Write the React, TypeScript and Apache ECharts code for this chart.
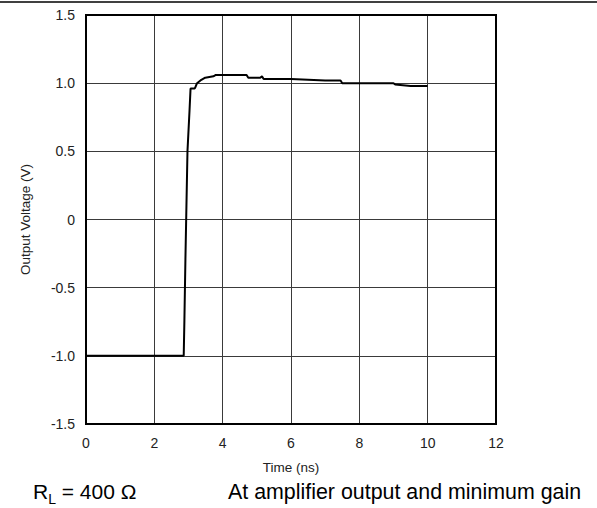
import React, { useEffect, useRef } from "react";
import * as echarts from "echarts";

const timeNs = [0, 0.5, 1, 1.5, 2, 2.5, 2.86, 2.88, 2.91, 2.97, 3.03, 3.06, 3.18, 3.2, 3.25, 3.35, 3.49, 3.73, 3.8, 4.0, 4.2, 4.7, 4.75, 5.1, 5.15, 5.2, 6.0, 7.0, 7.45, 7.5, 8.0, 8.5, 9.0, 9.05, 9.5, 10.0];
const voltage = [-1, -1, -1, -1, -1, -1, -1, -0.74, -0.29, 0.5, 0.8, 0.96, 0.96, 0.97, 1.0, 1.02, 1.04, 1.05, 1.06, 1.06, 1.06, 1.06, 1.04, 1.04, 1.05, 1.03, 1.03, 1.02, 1.02, 1.0, 1.0, 1.0, 1.0, 0.99, 0.98, 0.98];

const xTitle = "Time (ns)";
const yTitle = "Output Voltage (V)";
const noteLeftMain = "R";
const noteLeftSub = "L";
const noteLeftRest = " = 400 Ω";
const noteRight = "At amplifier output and minimum gain";

export default function App() {
  const ref = useRef<HTMLDivElement>(null);
  useEffect(() => {
    document.body.style.margin = "0";
    const chart = echarts.init(ref.current!, null, { renderer: "svg" });
    const font = "'Liberation Sans', Arial, sans-serif";
    chart.setOption({
      animation: false,
      backgroundColor: "#fff",
      textStyle: { fontFamily: font },
      grid: {
        left: 86,
        top: 15,
        width: 410,
        height: 409,
        show: true,
        borderColor: "#000",
        borderWidth: 2,
        backgroundColor: "transparent",
        z: 3,
      },
      xAxis: {
        type: "value",
        min: 0,
        max: 12,
        interval: 2,
        name: xTitle,
        nameLocation: "middle",
        nameGap: 36,
        nameTextStyle: { fontSize: 13.5, color: "#222", fontFamily: font },
        axisLine: { show: false },
        axisTick: { show: false },
        axisLabel: { fontSize: 14, color: "#222", margin: 12, fontFamily: font },
        splitLine: { show: true, lineStyle: { color: "#3a3a3a", width: 1 } },
      },
      yAxis: {
        type: "value",
        min: -1.5,
        max: 1.5,
        interval: 0.5,
        name: yTitle,
        nameLocation: "middle",
        nameGap: 54,
        nameRotate: 90,
        nameTextStyle: { fontSize: 13.5, color: "#222", fontFamily: font },
        axisLine: { show: false },
        axisTick: { show: false },
        axisLabel: {
          fontSize: 14,
          color: "#222",
          margin: 11,
          fontFamily: font,
          formatter: (v: number) => (Math.abs(v) < 1e-9 ? "0" : v.toFixed(1)),
        },
        splitLine: { show: true, lineStyle: { color: "#3a3a3a", width: 1 } },
      },
      series: [
        {
          type: "line",
          data: timeNs.map((t, i) => [t, voltage[i]]),
          showSymbol: false,
          symbol: "none",
          lineStyle: { color: "#000", width: 2 },
          z: 5,
        },
      ],
      graphic: [
        {
          type: "line",
          shape: { x1: 0, y1: 2, x2: 597, y2: 2 },
          style: { stroke: "#000", lineWidth: 1.5 },
        },
        {
          type: "text",
          left: 33,
          top: 481,
          style: {
            text: `{a|${noteLeftMain}}{s|${noteLeftSub}}{a|${noteLeftRest}}`,
            rich: {
              a: { fontSize: 21, fontFamily: font, fill: "#000", verticalAlign: "bottom" },
              s: { fontSize: 14, fontFamily: font, fill: "#000", padding: [0, 0, -4, 0], verticalAlign: "bottom" },
            },
          },
        },
        {
          type: "text",
          left: 228,
          top: 481,
          style: { text: noteRight, fontSize: 21.4, fontFamily: font, fill: "#000" },
        },
      ],
    });
    return () => chart.dispose();
  }, []);
  return <div ref={ref} style={{ position: "fixed", left: 0, top: 0, width: 597, height: 508 }} />;
}
